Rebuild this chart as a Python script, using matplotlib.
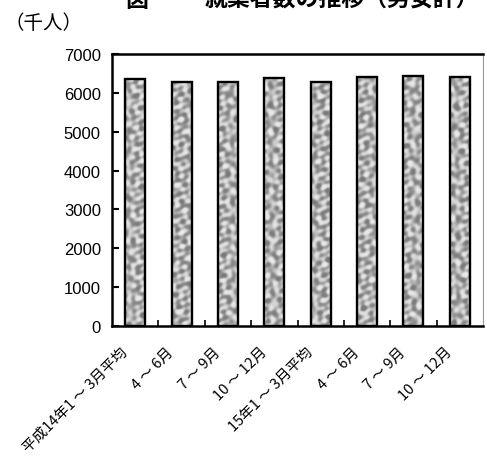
import numpy as np
import matplotlib
matplotlib.use("Agg")
import matplotlib.pyplot as plt
from matplotlib.patches import Rectangle
from matplotlib.transforms import ScaledTranslation

plt.rcParams['font.family'] = ['Noto Sans CJK JP', 'DejaVu Sans']

categories = ["平成14年1 ～ 3月平均", "4 ～ 6月", "7 ～ 9月", "10 ～ 12月",
              "15年1 ～ 3月平均", "4 ～ 6月", "7 ～ 9月", "10 ～ 12月"]
values = [6360, 6290, 6270, 6370, 6270, 6400, 6440, 6400]
yticks = [0, 1000, 2000, 3000, 4000, 5000, 6000, 7000]

W, H = 487, 460
fig = plt.figure(figsize=(W / 100, H / 100), dpi=100)
ax = fig.add_axes([112 / W, 1 - 327 / H, (483 - 112) / W, (327 - 55) / H])

x = np.arange(len(categories))
bars = ax.bar(x, values, width=0.43, facecolor='none', edgecolor='black',
              linewidth=1.7, zorder=3)

# mottled grey stone texture: superposed plane waves in many directions (pixel units)
gx, gy = np.meshgrid(np.linspace(0, 20, 80), np.linspace(0, 250, 1000))
angles = np.deg2rad([7, 31, 58, 83, 104, 127, 152, 171, 45, 118])
waves = [7.5, 9.5, 8.4, 11.5, 7.0, 13.0, 9.2, 10.4, 15.0, 6.4]
for i, b in enumerate(bars):
    tex = np.zeros_like(gx)
    for k, (a, lam) in enumerate(zip(angles, waves)):
        ph = 0.9 * k + 1.7 * i * (k % 3 + 1)
        tex += np.cos(2 * np.pi / lam * (gx * np.cos(a) + gy * np.sin(a)) + ph)
    tex = np.tanh(tex / 3.0)
    tex = (tex - tex.min()) / (tex.max() - tex.min())
    tex = 0.47 + 0.45 * tex
    im = ax.imshow(tex, cmap='gray', vmin=0, vmax=1, aspect='auto',
                   extent=(b.get_x(), b.get_x() + b.get_width(), 0, b.get_height()),
                   origin='lower', zorder=2, interpolation='bilinear')
    clip = Rectangle((b.get_x(), 0), b.get_width(), b.get_height(),
                     transform=ax.transData)
    im.set_clip_path(clip)

ax.set_xlim(-0.5, len(categories) - 0.5)
ax.set_ylim(0, 7000)
ax.set_yticks(yticks)
ax.set_yticklabels([str(v) for v in yticks], family=['Liberation Sans'], fontsize=12)
ax.tick_params(axis='y', direction='in', length=5, width=1.5, pad=8)

ax.set_xticks(x)
ax.set_xticklabels(categories, rotation=45, ha='right', va='top',
                   rotation_mode='anchor', fontsize=10.5)
ax.tick_params(axis='x', length=0, pad=4)
shift = ScaledTranslation(-15 / 100, -13 / 100, fig.dpi_scale_trans)
for lab in ax.get_xticklabels():
    lab.set_transform(lab.get_transform() + shift)
ax.set_xticks(np.arange(0.5, len(categories) - 0.5, 1), minor=True)
ax.tick_params(axis='x', which='minor', direction='in', length=4, width=1.2)

for side in ('left', 'bottom', 'top'):
    ax.spines[side].set_linewidth(1.8)
    ax.spines[side].set_color('black')
ax.spines['right'].set_linewidth(0.8)
ax.spines['right'].set_color('#999999')

fig.text(4 / W, 1 - 29 / H, "（千人）", fontsize=14, ha='left', va='baseline')

fig.text(125 / W, 1 - 7 / H, "図", fontsize=16.5, fontweight='bold', ha='left', va='baseline')
fig.text(205 / W, 1 - 7 / H, "就業者数の推移（男女計）", fontsize=16.5,
         fontweight='bold', ha='left', va='baseline')

fig.savefig("out.png", dpi=100)
